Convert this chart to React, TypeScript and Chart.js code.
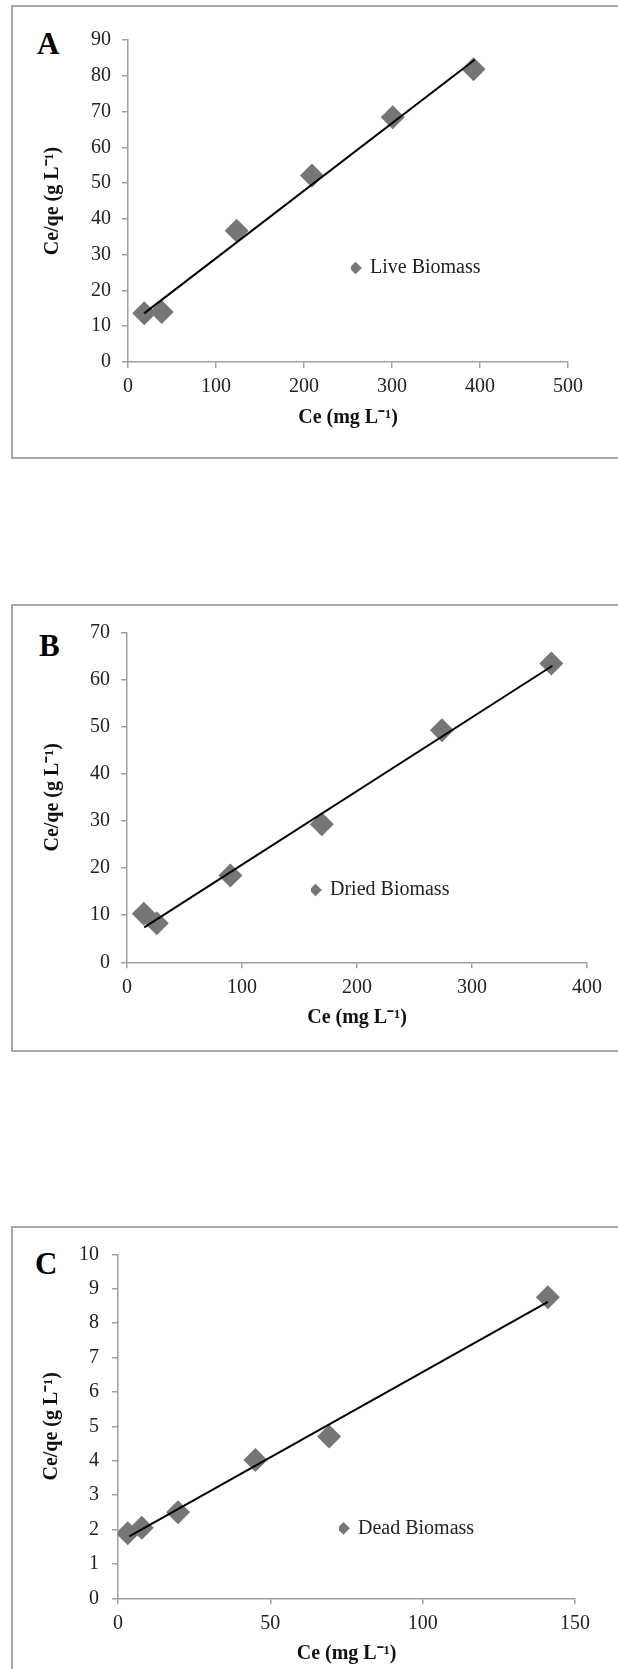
import React, { useEffect, useRef } from "react";
import { Chart, registerables } from "chart.js";

Chart.register(...registerables);

const FONT = '"Liberation Serif", "Times New Roman", Times, serif';

// ---- Data ----
const ceLive = [18.5, 38.3, 123.5, 209, 300.8, 392.7];
const ratioLive = [13.6, 14.0, 36.7, 52.1, 68.4, 81.8];
const trendLiveX = [18.3, 394];
const trendLiveY = [13.6, 84.5];

const ceDried = [14.6, 25.9, 89.9, 169.4, 273.8, 369];
const ratioDried = [10.3, 8.3, 18.4, 29.3, 49.2, 63.4];
const trendDriedX = [15.0, 370];
const trendDriedY = [7.4, 62.9];

const ceDead = [3.2, 7.8, 19.7, 45.1, 69.3, 141.1];
const ratioDead = [1.89, 2.05, 2.5, 4.02, 4.7, 8.75];
const trendDeadX = [3.7, 141.1];
const trendDeadY = [1.8, 8.62];

const seriesNames = ["Live Biomass", "Dried Biomass", "Dead Biomass"];
const panelLetters = ["A", "B", "C"];
const xMaxes = [500, 400, 150];
const xSteps = [100, 100, 50];
const yMaxes = [90, 70, 10];
const ySteps = [10, 10, 1];
const xTitle = "Ce (mg L\u207B\u00B9)";
const yTitle = "Ce/qe (g L\u207B\u00B9)";

// ---- Layout (page pixels) ----
const PAGE_W = 618;
const AXIS_H = 68;
const panels = [
  {
    xs: ceLive, ys: ratioLive, tx: trendLiveX, ty: trendLiveY,
    canvasTop: 0, canvasHeight: 470, padLeft: 41, yPad: 11,
    area: { left: 128, right: 568, top: 40, bottom: 362 },
    legend: { x: 351, y: 258 },
    box: { top: 5, height: 454 },
    letterPos: { left: 37, top: 27.6 },
  },
  {
    xs: ceDried, ys: ratioDried, tx: trendDriedX, ty: trendDriedY,
    canvasTop: 590, canvasHeight: 470, padLeft: 41, yPad: 11,
    area: { left: 127, right: 587, top: 632.3, bottom: 962.3 },
    legend: { x: 311, y: 880 },
    box: { top: 604, height: 448 },
    letterPos: { left: 39, top: 629.6 },
  },
  {
    xs: ceDead, ys: ratioDead, tx: trendDeadX, ty: trendDeadY,
    canvasTop: 1220, canvasHeight: 449, padLeft: 40, yPad: 13,
    area: { left: 118, right: 575, top: 1254.3, bottom: 1598.3 },
    legend: { x: 339, y: 1518.3 },
    box: { top: 1226, height: 520 },
    letterPos: { left: 35, top: 1247.6 },
  },
];

const legendPlacer = {
  id: "legendPlacer",
  afterLayout(chart: any, _args: any, opts: any) {
    const lg = chart.legend;
    if (!lg || !opts || opts.x == null) return;
    const w = lg.width;
    const h = lg.height;
    lg.left = opts.x;
    lg.top = opts.y;
    lg.right = opts.x + w;
    lg.bottom = opts.y + h;
  },
};

function makeConfig(i: number): any {
  const p = panels[i];
  const aTop = p.area.top - p.canvasTop;
  const aBottom = p.area.bottom - p.canvasTop;
  const scatterData = p.xs.map((x, k) => ({ x, y: p.ys[k] }));
  const trendData = p.tx.map((x, k) => ({ x, y: p.ty[k] }));
  const axisColor = "#a0a0a0";
  const tickFont = { family: FONT, size: 20 };
  const titleFont = { family: FONT, size: 20, weight: "bold" as const };
  return {
    type: "scatter",
    data: {
      datasets: [
        {
          type: "line",
          label: "Linear (" + seriesNames[i] + ")",
          data: trendData,
          borderColor: "#000000",
          borderWidth: 2,
          pointRadius: 0,
          fill: false,
          tension: 0,
        },
        {
          type: "scatter",
          label: seriesNames[i],
          data: scatterData,
          pointStyle: "rectRot",
          pointRadius: 12,
          backgroundColor: "#767676",
          borderColor: "#767676",
          borderWidth: 0,
        },
      ],
    },
    options: {
      animation: false,
      responsive: false,
      events: [],
      layout: {
        padding: {
          left: p.padLeft,
          top: aTop,
          right: PAGE_W - p.area.right,
          bottom: p.canvasHeight - aBottom - AXIS_H,
        },
      },
      plugins: {
        tooltip: { enabled: false },
        title: { display: false },
        legend: {
          display: true,
          position: "chartArea",
          align: "start",
          labels: {
            usePointStyle: true,
            boxWidth: 9,
            boxHeight: 9,
            padding: 0,
            color: "#222222",
            font: { family: FONT, size: 20 },
            filter: (item: any) => item.datasetIndex === 1,
          },
        },
        legendPlacer: { x: p.legend.x, y: p.legend.y - p.canvasTop },
      },
      scales: {
        x: {
          type: "linear",
          min: 0,
          max: xMaxes[i],
          ticks: {
            stepSize: xSteps[i],
            color: "#222222",
            font: tickFont,
            padding: 7,
            maxRotation: 0,
            autoSkip: false,
          },
          grid: {
            drawOnChartArea: false,
            drawTicks: true,
            tickLength: 6,
            color: axisColor,
            lineWidth: 1.5,
          },
          border: { display: true, color: axisColor, width: 1.5 },
          title: {
            display: true,
            text: xTitle,
            color: "#111111",
            font: titleFont,
            padding: 0,
          },
          afterFit: (s: any) => {
            s.height = AXIS_H;
          },
        },
        y: {
          type: "linear",
          min: 0,
          max: yMaxes[i],
          ticks: {
            stepSize: ySteps[i],
            color: "#222222",
            font: tickFont,
            padding: p.yPad,
            autoSkip: false,
          },
          grid: {
            drawOnChartArea: false,
            drawTicks: true,
            tickLength: 6,
            color: axisColor,
            lineWidth: 1.5,
          },
          border: { display: true, color: axisColor, width: 1.5 },
          title: {
            display: true,
            text: yTitle,
            color: "#111111",
            font: titleFont,
            padding: 0,
          },
          afterFit: (s: any) => {
            s.width = p.area.left - p.padLeft;
          },
        },
      },
    },
    plugins: [legendPlacer],
  };
}

function Panel({ index }: { index: number }) {
  const ref = useRef<HTMLCanvasElement | null>(null);
  const p = panels[index];
  useEffect(() => {
    if (!ref.current) return;
    const chart = new Chart(ref.current, makeConfig(index));
    return () => chart.destroy();
  }, [index]);
  return (
    <>
      <div
        style={{
          position: "absolute",
          left: 11,
          top: p.box.top,
          width: 640,
          height: p.box.height,
          boxSizing: "border-box",
          border: "2px solid #a8a8a8",
        }}
      />
      <div
        style={{
          position: "absolute",
          left: p.letterPos.left,
          top: p.letterPos.top,
          fontFamily: FONT,
          fontWeight: "bold",
          fontSize: 31,
          lineHeight: "31px",
          color: "#000",
        }}
      >
        {panelLetters[index]}
      </div>
      <canvas
        ref={ref}
        width={PAGE_W}
        height={p.canvasHeight}
        style={{
          position: "absolute",
          left: 0,
          top: p.canvasTop,
          width: PAGE_W,
          height: p.canvasHeight,
        }}
      />
    </>
  );
}

export default function App() {
  return (
    <div
      style={{
        position: "absolute",
        left: 0,
        top: 0,
        width: PAGE_W,
        height: 1669,
        overflow: "hidden",
        background: "#fff",
      }}
    >
      <Panel index={0} />
      <Panel index={1} />
      <Panel index={2} />
    </div>
  );
}
